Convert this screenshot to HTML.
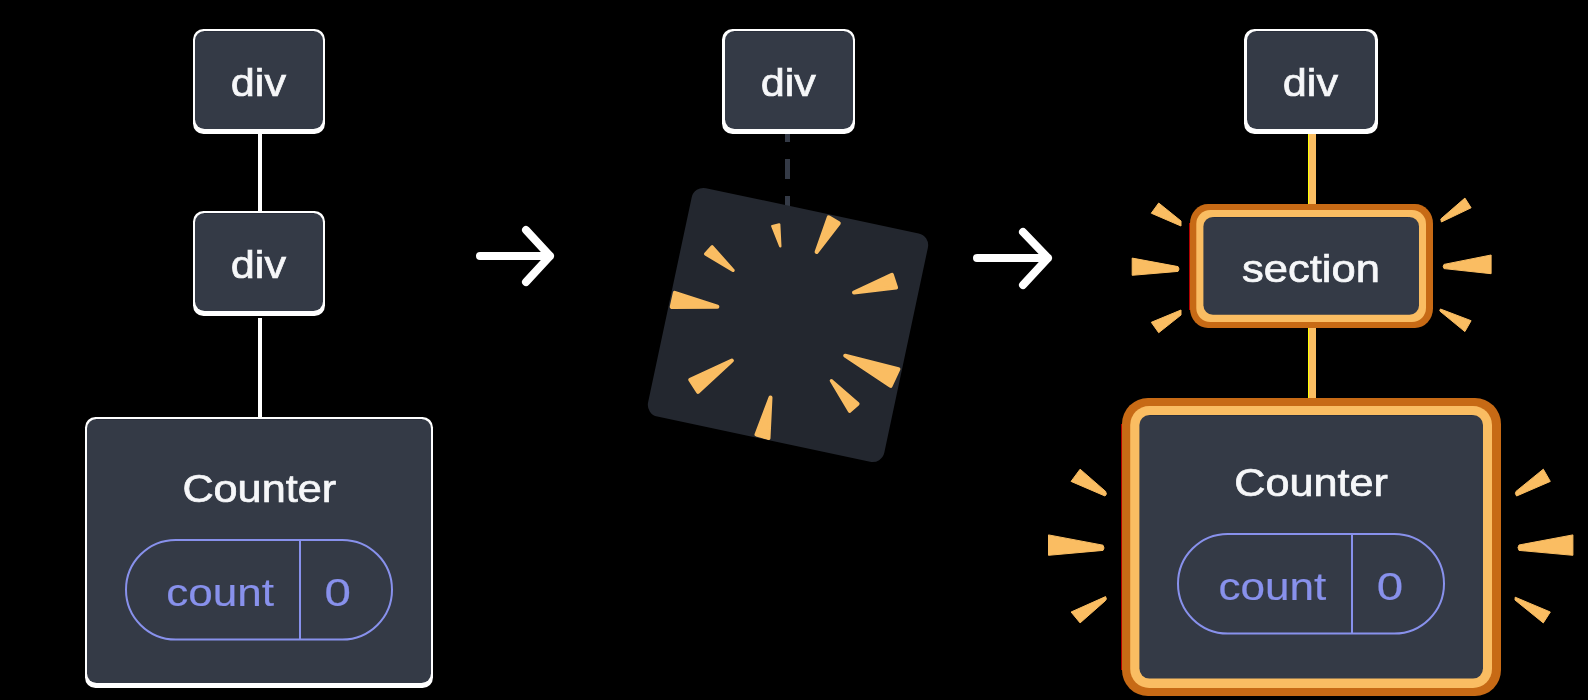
<!DOCTYPE html>
<html>
<head>
<meta charset="utf-8">
<title>Diagram</title>
<style>
  html, body { margin: 0; padding: 0; background: #000; }
  body { width: 1588px; height: 700px; overflow: hidden; position: relative; }
  svg { position: absolute; left: 0; top: 0; display: block; will-change: transform; }
  text { font-family: "Liberation Sans", sans-serif; }
  .lbl { fill: #f6f7f9; font-size: 39.3px; stroke: #f6f7f9; stroke-width: 0.7px; }
  .st  { fill: #8891ec; font-size: 39.6px; stroke: #8891ec; stroke-width: 0.2px; }
</style>
</head>
<body>
<svg width="1588" height="700" viewBox="0 0 1588 700">
  <rect x="0" y="0" width="1588" height="700" fill="#000"/>

  <!-- ============ LEFT COLUMN ============ -->
  <g id="left">
    <rect x="258" y="134" width="4" height="78" fill="#fff"/>
    <rect x="258" y="318" width="4" height="100" fill="#fff"/>

    <rect x="193" y="29" width="132" height="105" rx="10.5" fill="#fff"/>
    <rect x="195" y="31" width="128" height="98" rx="9.5" fill="#343a46"/>

    <rect x="193" y="211" width="132" height="105" rx="10.5" fill="#fff"/>
    <rect x="195" y="213" width="128" height="98" rx="9.5" fill="#343a46"/>

    <rect x="85" y="417" width="348" height="271" rx="10.5" fill="#fff"/>
    <rect x="87" y="419" width="344" height="264" rx="9.5" fill="#343a46"/>

    <rect x="126" y="540" width="266" height="99.5" rx="49.75" fill="none" stroke="#8891ec" stroke-width="2"/>
    <rect x="299" y="540" width="2" height="100" fill="#8891ec"/>
  </g>

  <!-- ============ ARROWS ============ -->
  <g fill="none" stroke="#fff" stroke-width="8" stroke-linecap="round" stroke-linejoin="round">
    <path d="M480 256 H550 M526 230 L550 256 L526 282"/>
    <path d="M977 258 H1048 M1023 232 L1048 258 L1023 285"/>
  </g>

  <!-- ============ MIDDLE ============ -->
  <g id="mid">
    <rect x="785" y="134" width="5" height="8" fill="#343a46"/>
    <rect x="785" y="159" width="5" height="20" fill="#343a46"/>
    <rect x="785" y="196" width="5" height="16" fill="#343a46"/>

    <rect x="722" y="29" width="133" height="105" rx="10.5" fill="#fff"/>
    <rect x="725" y="31" width="128" height="98" rx="9.5" fill="#343a46"/>

    <g transform="translate(788 325) rotate(12)">
      <rect x="-120.75" y="-116.75" width="241.5" height="233.5" rx="12" fill="#23272f"/>
    </g>
    <clipPath id="boxclip"><rect x="-120.75" y="-116.75" width="241.5" height="233.5" rx="12" transform="translate(788 325) rotate(12)"/></clipPath>
    <g fill="#fabd62" stroke="#fabd62" stroke-linejoin="round" clip-path="url(#boxclip)">
      <polygon points="780.3,246.4 772.3,226.1 779.2,224.4" stroke-width="2.4"/>
      <polygon points="816.6,252.0 828.7,217.3 838.8,223.2" stroke-width="4.0"/>
      <polygon points="854.0,292.5 891.9,274.9 896.1,287.6" stroke-width="4.0"/>
      <polygon points="845.2,355.7 898.4,369.1 890.6,385.8" stroke-width="4.0"/>
      <polygon points="831.4,380.7 857.9,403.9 849.6,411.2" stroke-width="3.4"/>
      <polygon points="770.5,397.5 756.5,434.5 768.5,438.1" stroke-width="4.0"/>
      <polygon points="731.9,360.6 690.2,379.7 698.1,391.8" stroke-width="4.0"/>
      <polygon points="717.4,306.7 674.8,292.9 671.7,307.0" stroke-width="4.0"/>
      <polygon points="733.0,270.3 712.1,246.9 705.8,254.0" stroke-width="3.4"/>
    </g>
  </g>

  <!-- ============ RIGHT COLUMN ============ -->
  <g id="right">
    <rect x="1308" y="134" width="1" height="72" fill="#ffff00"/>
    <rect x="1309" y="134" width="7" height="72" fill="#fabd62"/>
    <rect x="1308" y="326" width="1" height="74" fill="#ffff00"/>
    <rect x="1309" y="326" width="7" height="74" fill="#fabd62"/>

    <rect x="1244" y="29" width="134" height="105" rx="10.5" fill="#fff"/>
    <rect x="1247" y="31" width="128" height="98" rx="9.5" fill="#343a46"/>

    <!-- section -->
    <rect x="1189.3" y="223" width="2" height="87" fill="#ff0000"/>
    <rect x="1190" y="204" width="243" height="124" rx="18" ry="19.5" fill="#c76a15"/>
    <rect x="1196.3" y="210" width="229.7" height="112" rx="14" fill="#fabd62"/>
    <rect x="1203.4" y="217" width="215.6" height="97.7" rx="9.5" fill="#343a46"/>

    <g fill="#fabd62" stroke="#fabd62" stroke-width="1" stroke-linejoin="round">
      <polygon points="1158.7,203 1151.3,213.2 1181,226 1181,221"/>
      <polygon points="1132.2,258.1 1132.2,275.3 1178,271.4 1179,269 1178,266.6"/>
      <polygon points="1181,310 1181,315 1158.7,332.7 1151.3,322.3"/>
      <polygon points="1440.8,219 1464.9,198.1 1471.1,207.8 1441.4,222"/>
      <polygon points="1443.2,266.4 1444,264.4 1491.1,255 1491.1,273.7 1444,268.6"/>
      <polygon points="1440.4,309 1471.1,320.7 1464.9,331.6 1439.8,311"/>
    </g>

    <!-- Counter -->
    <rect x="1121.3" y="424" width="2" height="246" fill="#ff0000"/>
    <rect x="1122" y="398" width="379" height="298" rx="26" fill="#c76a15"/>
    <rect x="1130.2" y="406" width="361.8" height="282" rx="19" fill="#fabd62"/>
    <rect x="1139.4" y="415" width="343.6" height="263.6" rx="10" fill="#343a46"/>

    <rect x="1178" y="534" width="266" height="99.5" rx="49.75" fill="none" stroke="#8891ec" stroke-width="2"/>
    <rect x="1351" y="534" width="2" height="100" fill="#8891ec"/>

    <g fill="#fabd62" stroke="#fabd62" stroke-width="1" stroke-linejoin="round">
      <polygon points="1080.1,469.2 1071.1,481.4 1105,496 1106.4,494 1105.6,491.4"/>
      <polygon points="1048.5,534.9 1048.5,555.3 1103,550.4 1104,548 1103,545.2"/>
      <polygon points="1105.6,596.6 1106.4,599 1105,601 1080.1,622.9 1071.1,612"/>
      <polygon points="1516,491.4 1543.3,469.2 1550.3,481.4 1516.6,496 1515.4,493.6"/>
      <polygon points="1518,547.6 1519,545 1572.9,534.9 1572.9,555.3 1519,550.4"/>
      <polygon points="1515.2,597.2 1550.3,612 1543.3,622.9 1515,600"/>
    </g>
  </g>

  <g id="inner-edges" fill="#2a2f3c">
    <rect x="204" y="31" width="110" height="1"/>
    <rect x="204" y="213" width="110" height="1"/>
    <rect x="96" y="419" width="326" height="1"/>
    <rect x="734" y="31" width="110" height="1"/>
    <rect x="1256" y="31" width="110" height="1"/>
    <rect x="1214" y="217" width="194" height="1"/>
    <rect x="1150" y="415" width="322" height="1"/>
  </g>

  <g id="texts">
    <text id="t_ldiv1" class="lbl" x="230.8" y="96" textLength="55.2" lengthAdjust="spacingAndGlyphs">div</text>
    <text id="t_ldiv2" class="lbl" x="230.8" y="278" textLength="55.2" lengthAdjust="spacingAndGlyphs">div</text>
    <text id="t_lcounter" class="lbl" x="182.4" y="502.3" textLength="153.7" lengthAdjust="spacingAndGlyphs">Counter</text>
    <text id="t_lcount" class="st" x="166.2" y="606.3" textLength="107.8" lengthAdjust="spacingAndGlyphs">count</text>
    <text id="t_lzero" class="st" x="324.6" y="606.3" textLength="26.4" lengthAdjust="spacingAndGlyphs">0</text>
    <text id="t_mdiv" class="lbl" x="760.7" y="96" textLength="55.2" lengthAdjust="spacingAndGlyphs">div</text>
    <text id="t_rdiv" class="lbl" x="1282.8" y="96" textLength="55.2" lengthAdjust="spacingAndGlyphs">div</text>
    <text id="t_section" class="lbl" x="1242" y="282.3" textLength="138" lengthAdjust="spacingAndGlyphs">section</text>
    <text id="t_rcounter" class="lbl" x="1234.3" y="496.3" textLength="153.7" lengthAdjust="spacingAndGlyphs">Counter</text>
    <text id="t_rcount" class="st" x="1218.4" y="600.3" textLength="107.8" lengthAdjust="spacingAndGlyphs">count</text>
    <text id="t_rzero" class="st" x="1376.7" y="600.3" textLength="26.4" lengthAdjust="spacingAndGlyphs">0</text>
  </g>
</svg>
</body>
</html>
